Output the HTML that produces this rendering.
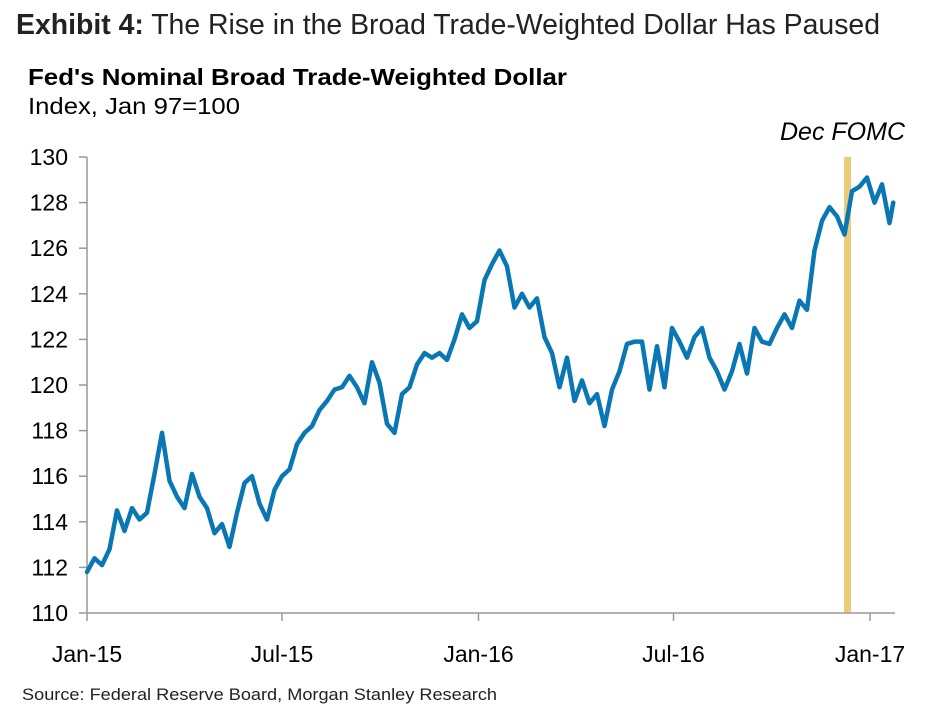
<!DOCTYPE html>
<html><head><meta charset="utf-8"><style>
body{margin:0;background:#fff;width:951px;height:722px;overflow:hidden;font-family:"Liberation Sans",sans-serif;}
svg{display:block}
</style></head><body>
<svg id="chart" width="951" height="722">
<text x="16" y="34" font-size="28.5" fill="#222" textLength="864" lengthAdjust="spacingAndGlyphs"><tspan font-weight="bold">Exhibit 4:</tspan> The Rise in the Broad Trade-Weighted Dollar Has Paused</text>
<text x="28" y="85" font-size="23" font-weight="bold" fill="#000" textLength="539" lengthAdjust="spacingAndGlyphs">Fed's Nominal Broad Trade-Weighted Dollar</text>
<text x="28" y="114" font-size="23" fill="#000" textLength="212" lengthAdjust="spacingAndGlyphs">Index, Jan 97=100</text>
<text x="905" y="140" font-size="25" font-style="italic" text-anchor="end" fill="#000">Dec FOMC</text>
<text x="22" y="700" font-size="17" fill="#222" textLength="475" lengthAdjust="spacingAndGlyphs">Source: Federal Reserve Board, Morgan Stanley Research</text>
<g id="plot"></g>
</svg>
<script>
const yTicks=[110,112,114,116,118,120,122,124,126,128,130];
const xTickLabels=["Jan-15","Jul-15","Jan-16","Jul-16","Jan-17"];
const xTickWeeks=[0,26,52.2,78.2,104.4];
const fomcWeek=101.4;
const values=[111.8,112.4,112.1,112.8,114.5,113.6,114.6,114.1,114.4,116.1,117.9,115.8,115.1,114.6,116.1,115.1,114.6,113.5,113.9,112.9,114.4,115.7,116.0,114.8,114.1,115.4,116.0,116.3,117.4,117.9,118.2,118.9,119.3,119.8,119.9,120.4,119.9,119.2,121.0,120.1,118.3,117.9,119.6,119.9,120.9,121.4,121.2,121.4,121.1,122.0,123.1,122.5,122.8,124.6,125.3,125.9,125.2,123.4,124.0,123.4,123.8,122.1,121.4,119.9,121.2,119.3,120.2,119.2,119.6,118.2,119.8,120.6,121.8,121.9,121.9,119.8,121.7,119.9,122.5,121.9,121.2,122.1,122.5,121.2,120.6,119.8,120.6,121.8,120.5,122.5,121.9,121.8,122.5,123.1,122.5,123.7,123.3,125.9,127.2,127.8,127.4,126.6,128.5,128.7,129.1,128.0,128.8,127.1,128.0];
const weeks=values.map((v,i)=>i<values.length-1?i:i-0.5);
const X=w=>87+w*7.5;
const Y=v=>157+(130-v)*22.8;
const ns="http://www.w3.org/2000/svg";
const g=document.getElementById('plot');
function mk(t,a){const e=document.createElementNS(ns,t);for(const k in a)e.setAttribute(k,a[k]);g.appendChild(e);return e;}
const band=mk('rect',{x:X(fomcWeek)-3.5,y:Y(130),width:7,height:Y(110)-Y(130),fill:'#ebcb78'});


const ya=mk('line',{x1:X(0),x2:X(0),y1:Y(130),y2:Y(110),stroke:'#999','stroke-width':1.5});


const xa=mk('line',{x1:X(0),x2:895,y1:Y(110),y2:Y(110),stroke:'#999','stroke-width':1.5});


yTicks.forEach(v=>{
 mk('line',{x1:X(0)-8,x2:X(0),y1:Y(v),y2:Y(v),stroke:'#999','stroke-width':1.5});
 const t=mk('text',{x:68,y:Y(v)+8,'font-size':23,'text-anchor':'end',fill:'#000'});
 t.textContent=v;
 
 
});
xTickWeeks.forEach((w,i)=>{
 mk('line',{x1:X(w),x2:X(w),y1:Y(110),y2:Y(110)+8,stroke:'#999','stroke-width':1.5});
 const t=mk('text',{x:X(w),y:662,'font-size':23,'text-anchor':'middle',fill:'#000'});
 t.textContent=xTickLabels[i];
 
 
});
const line=mk('polyline',{points:values.map((v,i)=>X(weeks[i])+','+Y(v)).join(' '),fill:'none',stroke:'#0a77b5','stroke-width':4.5,'stroke-linejoin':'round','stroke-linecap':'round'});


</script>
</body></html>
